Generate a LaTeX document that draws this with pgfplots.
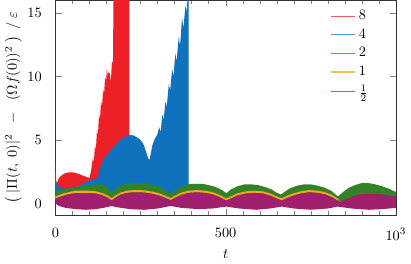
\documentclass[border=0pt]{standalone}
\usepackage{pgfplots}
\pgfplotsset{compat=1.18}
\definecolor{cred}{RGB}{236,32,38}
\definecolor{cblue}{RGB}{16,114,189}
\definecolor{cgreen}{RGB}{52,130,40}
\definecolor{corange}{RGB}{248,165,30}
\definecolor{cpurple}{RGB}{160,32,110}
\begin{document}
\begin{tikzpicture}
\begin{axis}[
  scale only axis, width=238pt, height=150pt,
  xmin=0, xmax=1000, ymin=-0.9, ymax=16,
  xtick={0,500,1000}, xticklabels={$0$,$500$,$10^3$},
  minor x tick num=9,
  ytick={0,5,10,15},
  xlabel={$t$},
  ylabel={$\left(\;|\Pi(t,\;0)|^2\;\;-\;\;(\Omega f(0))^2\;\right)\;/\;\varepsilon$},
  ylabel shift=-3pt,
  xticklabel style={yshift=-6pt},
  yticklabel style={xshift=-6pt},
  legend style={draw=none, fill=none, at={(0.94,0.98)}, anchor=north east, row sep=1pt},
  legend cell align=left,
  axis line style={black!80},
]
% 8
\addplot[fill=cred, draw=none, forget plot] coordinates {
(0,3.3) (1,2.4) (3,1.6) (6,1.7) (10,2.0) (20,2.25) (30,2.4) (40,2.45) (50,2.45) (60,2.4) (70,2.3) (80,2.2) (90,2.1) (100,2.0)
(105,2.6) (110,3.6) (113,3.2) (116,4.6) (119,4.2) (122,5.8) (125,5.4) (128,7.0) (131,6.6) (134,8.1) (137,7.6) (140,9.0) (143,8.6)
(146,10.0) (149,9.6) (151,10.6) (154,10.1) (157,10.4) (160,10.2) (163,9.6) (166,11.2) (169,11.0) (171,17) (217,17)
(217,0.4) (0,0.4)} -- cycle;
% 4
\addplot[fill=cblue, draw=none, forget plot] coordinates {
(0,2.0) (3,1.6) (8,1.35) (15,1.25) (30,1.15) (45,1.2) (60,1.3) (75,1.45) (90,1.7) (105,1.85) (120,1.95) (126,2.3) (132,2.9)
(140,3.4) (150,3.8) (160,4.1) (170,4.4) (180,4.7) (190,5.0) (200,5.2) (210,5.3) (220,5.4) (230,5.35) (240,5.2) (250,5.0)
(258,4.7) (266,4.1) (272,3.6) (276,3.4) (280,3.9) (285,4.6) (292,5.1) (299,5.4) (305,6.0) (309,5.6) (314,7.0) (318,6.6)
(323,8.0) (327,7.6) (333,9.4) (337,8.9) (343,10.6) (347,10.0) (352,11.8) (356,11.2) (362,13.1) (366,12.4) (372,14.6)
(376,13.8) (382,15.6) (386,15.0) (389,17) (391,17) (391,0.5) (0,0.5)} -- cycle;
% 2
\addplot[fill=cgreen, draw=none, forget plot] coordinates {
(0,1.0) (20,1.05) (40,1.15) (60,1.25) (80,1.35) (100,1.45) (120,1.5) (140,1.5) (155,1.2) (165,0.8) (175,1.1) (190,1.4)
(210,1.55) (230,1.6) (250,1.6) (270,1.55) (290,1.45) (310,1.25) (330,0.9) (338,0.7) (350,1.0) (370,1.3) (390,1.5)
(410,1.55) (430,1.55) (450,1.45) (470,1.3) (490,1.05) (502,0.8) (515,1.1) (535,1.35) (555,1.5) (575,1.5) (595,1.45)
(615,1.3) (635,1.1) (650,0.85) (662,0.7) (675,0.95) (690,1.2) (710,1.4) (730,1.5) (750,1.5) (770,1.4) (790,1.25)
(810,1.0) (830,0.55) (845,0.9) (860,1.2) (880,1.45) (900,1.6) (920,1.6) (940,1.5) (960,1.35) (980,1.15) (1000,0.9)
(1000,0.2) (0,0.2)} -- cycle;
% 1
\addplot[fill=corange, draw=none, forget plot] coordinates {
(0,0.55) (20,0.75) (40,0.9) (60,1.0) (80,1.0) (100,1.0) (120,0.95) (140,0.8) (155,0.6) (165,0.4) (175,0.6) (190,0.85)
(210,1.0) (230,1.05) (250,1.05) (270,1.0) (290,0.9) (310,0.75) (328,0.55) (339,0.42) (350,0.6) (370,0.85) (390,1.0)
(415,1.05) (440,1.0) (460,0.9) (480,0.7) (495,0.5) (502,0.4) (515,0.55) (535,0.8) (560,0.95) (585,1.0) (610,0.95)
(630,0.8) (650,0.55) (665,0.4) (680,0.6) (700,0.8) (720,0.95) (745,1.05) (770,1.0) (790,0.9) (810,0.7) (825,0.45) (832,0.35)
(832,0.18) (825,0.28) (810,0.53) (790,0.73) (770,0.83) (745,0.88) (720,0.78) (700,0.63) (680,0.43) (665,0.23) (650,0.38)
(630,0.63) (610,0.78) (585,0.83) (560,0.78) (535,0.63) (515,0.38) (502,0.23) (495,0.33) (480,0.53) (460,0.73) (440,0.83)
(415,0.88) (390,0.83) (370,0.68) (350,0.43) (339,0.25) (328,0.38) (310,0.58) (290,0.73) (270,0.83) (250,0.88) (230,0.88)
(210,0.83) (190,0.68) (175,0.43) (165,0.23) (155,0.43) (140,0.63) (120,0.78) (100,0.83) (80,0.83) (60,0.83) (40,0.73)
(20,0.58) (0,0.38)} -- cycle;
% 1/2
\addplot[fill=cpurple, draw=none, forget plot] coordinates {
(0,0.38) (20,0.58) (40,0.73) (60,0.8) (80,0.8) (100,0.8) (120,0.78) (140,0.63) (155,0.43) (165,0.23) (175,0.43) (190,0.68)
(210,0.83) (230,0.88) (250,0.88) (270,0.83) (290,0.73) (310,0.58) (328,0.38) (339,0.25) (350,0.43) (370,0.68) (390,0.83)
(415,0.88) (440,0.83) (460,0.73) (480,0.53) (495,0.33) (502,0.23) (515,0.38) (535,0.63) (560,0.78) (585,0.83) (610,0.78)
(630,0.63) (650,0.38) (665,0.23) (680,0.43) (700,0.63) (720,0.78) (745,0.88) (770,0.83) (790,0.73) (810,0.53) (825,0.28)
(835,0.15) (855,0.35) (870,0.5) (890,0.7) (910,0.75) (940,0.75) (965,0.7) (985,0.6) (1000,0.55)
(1000,-0.35) (960,-0.45) (920,-0.5) (870,-0.4) (830,-0.25) (800,-0.4) (750,-0.5) (700,-0.4) (665,-0.25) (630,-0.4)
(590,-0.5) (540,-0.4) (502,-0.25) (460,-0.4) (420,-0.45) (370,-0.35) (339,-0.2) (300,-0.4) (260,-0.5) (220,-0.45)
(180,-0.3) (165,-0.2) (150,-0.3) (120,-0.45) (90,-0.5) (60,-0.45) (30,-0.35) (10,-0.2) (0,0.0)} -- cycle;
\addlegendimage{color=cred, line width=1pt, opacity=0.75}\addlegendentry{$8$}
\addlegendimage{color=cblue, line width=1pt, opacity=0.75}\addlegendentry{$4$}
\addlegendimage{color=cgreen, line width=1pt, opacity=0.75}\addlegendentry{$2$}
\addlegendimage{color=corange, line width=1pt, opacity=0.75}\addlegendentry{$1$}
\addlegendimage{color=cpurple, line width=1pt, opacity=0.75}\addlegendentry{$\frac{1}{2}$}
\end{axis}
\end{tikzpicture}
\end{document}
